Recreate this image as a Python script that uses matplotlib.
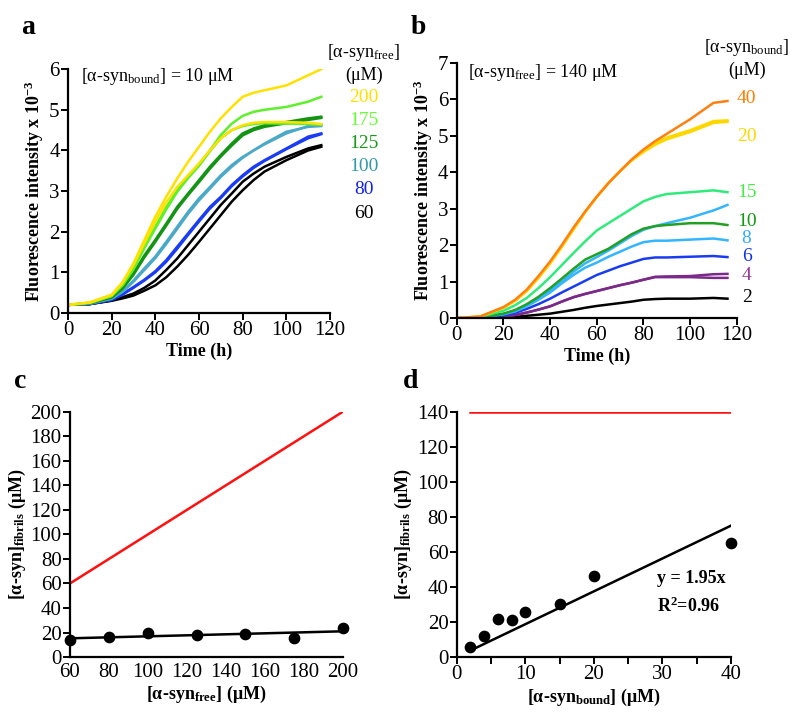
import matplotlib
matplotlib.use('Agg')
import matplotlib.pyplot as plt
import numpy as np

plt.rcParams['font.family'] = ['Liberation Serif', 'DejaVu Serif']
plt.rcParams['mathtext.fontset'] = 'custom'
plt.rcParams['mathtext.rm'] = 'Liberation Serif'
plt.rcParams['mathtext.bf'] = 'Liberation Serif:bold'
plt.rcParams['mathtext.it'] = 'Liberation Serif:italic'

# time points (h) at which the kinetic traces were read
time = [0, 10, 20, 25, 30, 35, 40, 45, 50, 55, 60, 65, 70, 75, 80, 85, 90, 100, 110, 116]

# ---- panel a: ThT kinetics, [bound] = 10 uM, varying [free] (x 10^3 a.u.)
a_free = ['200', '175', '125', '100', '80', '60']
a_colors = ['#FFE100', '#5EF02A', '#139413', '#4BA9C8', '#1A3CF5', '#000000']
a_label_colors = ['#FFE000', '#66FF33', '#1A9A1A', '#3399AA', '#1122EE', '#000000']
a_rep1 = [
    [0.2, 0.26, 0.45, 0.76, 1.22, 1.8, 2.37, 2.86, 3.31, 3.72, 4.09, 4.46, 4.79, 5.07, 5.32, 5.42, 5.48, 5.6, 5.85, 6.0],
    [0.2, 0.25, 0.42, 0.7, 1.12, 1.62, 2.12, 2.6, 3.02, 3.35, 3.65, 4.0, 4.38, 4.66, 4.85, 4.95, 5.0, 5.07, 5.2, 5.32],
    [0.2, 0.24, 0.39, 0.62, 0.98, 1.42, 1.8, 2.2, 2.61, 2.94, 3.27, 3.6, 3.89, 4.17, 4.42, 4.54, 4.62, 4.7, 4.79, 4.83],
    [0.2, 0.23, 0.36, 0.54, 0.8, 1.1, 1.39, 1.75, 2.12, 2.49, 2.82, 3.1, 3.39, 3.64, 3.84, 4.0, 4.17, 4.46, 4.58, 4.6],
    [0.2, 0.22, 0.33, 0.47, 0.64, 0.82, 1.03, 1.3, 1.63, 1.96, 2.29, 2.61, 2.86, 3.15, 3.39, 3.6, 3.76, 4.05, 4.34, 4.42],
    [0.2, 0.22, 0.31, 0.39, 0.48, 0.62, 0.8, 1.06, 1.34, 1.67, 2.0, 2.33, 2.66, 2.94, 3.23, 3.43, 3.6, 3.84, 4.05, 4.13],
]
a_rep2 = [
    [0.2, 0.26, 0.44, 0.74, 1.18, 1.72, 2.25, 2.72, 3.1, 3.39, 3.68, 4.0, 4.3, 4.5, 4.62, 4.68, 4.7, 4.7, 4.68, 4.65],
    [0.2, 0.25, 0.42, 0.68, 1.08, 1.6, 2.08, 2.55, 2.98, 3.32, 3.62, 3.98, 4.3, 4.5, 4.6, 4.65, 4.67, 4.66, 4.65, 4.63],
    [0.2, 0.24, 0.38, 0.6, 0.94, 1.37, 1.75, 2.15, 2.56, 2.9, 3.22, 3.55, 3.85, 4.12, 4.37, 4.5, 4.58, 4.67, 4.75, 4.8],
    [0.2, 0.23, 0.35, 0.52, 0.77, 1.06, 1.35, 1.7, 2.07, 2.44, 2.77, 3.06, 3.35, 3.6, 3.82, 4.0, 4.15, 4.42, 4.6, 4.63],
    [0.2, 0.22, 0.32, 0.45, 0.62, 0.8, 1.0, 1.26, 1.58, 1.92, 2.25, 2.57, 2.83, 3.12, 3.36, 3.57, 3.74, 4.03, 4.3, 4.4],
    [0.2, 0.22, 0.3, 0.36, 0.43, 0.55, 0.68, 0.88, 1.14, 1.43, 1.75, 2.08, 2.41, 2.74, 3.02, 3.27, 3.48, 3.76, 4.0, 4.09],
]

# ---- panel b: [free] = 140 uM, varying [bound]
b_bound = ['40', '20', '15', '10', '8', '6', '4', '2']
b_colors = ['#FF7F10', '#FFD700', '#30EB7C', '#22A022', '#33B5FF', '#1A3CF0', '#7B2A8A', '#000000']
b_label_colors = ['#FF7F00', '#FFD800', '#44EE44', '#119911', '#33AAFF', '#1133DD', '#993399', '#000000']
b_rep1 = [
    [0, 0.04, 0.3, 0.5, 0.78, 1.15, 1.55, 2.0, 2.48, 2.92, 3.33, 3.7, 4.03, 4.35, 4.62, 4.85, 5.05, 5.45, 5.9, 5.95],
    [0, 0.04, 0.28, 0.47, 0.74, 1.1, 1.5, 1.95, 2.43, 2.9, 3.32, 3.7, 4.03, 4.33, 4.58, 4.8, 4.95, 5.15, 5.4, 5.42],
    [0, 0.03, 0.2, 0.35, 0.55, 0.82, 1.12, 1.45, 1.78, 2.1, 2.4, 2.6, 2.8, 3.0, 3.2, 3.32, 3.4, 3.45, 3.5, 3.45],
    [0, 0.02, 0.12, 0.22, 0.38, 0.58, 0.82, 1.08, 1.35, 1.6, 1.75, 1.9, 2.1, 2.3, 2.45, 2.52, 2.55, 2.6, 2.6, 2.55],
    [0, 0.02, 0.1, 0.18, 0.32, 0.5, 0.7, 0.95, 1.18, 1.38, 1.52, 1.68, 1.82, 1.96, 2.08, 2.12, 2.12, 2.15, 2.18, 2.13],
    [0, 0.01, 0.07, 0.14, 0.25, 0.38, 0.53, 0.7, 0.86, 1.02, 1.18, 1.3, 1.42, 1.52, 1.62, 1.66, 1.66, 1.68, 1.7, 1.67],
    [0, 0.01, 0.04, 0.08, 0.15, 0.23, 0.32, 0.45, 0.57, 0.66, 0.74, 0.82, 0.9, 0.97, 1.05, 1.13, 1.14, 1.15, 1.2, 1.21],
    [0, 0.0, 0.01, 0.03, 0.06, 0.09, 0.12, 0.17, 0.22, 0.28, 0.33, 0.37, 0.41, 0.45, 0.5, 0.52, 0.53, 0.53, 0.55, 0.53],
]
b_rep2 = [
    None,
    [0, 0.04, 0.28, 0.47, 0.74, 1.1, 1.5, 1.95, 2.43, 2.9, 3.32, 3.7, 4.03, 4.32, 4.55, 4.75, 4.9, 5.1, 5.35, 5.38],
    None,
    None,
    [0, 0.02, 0.11, 0.2, 0.35, 0.53, 0.76, 1.0, 1.27, 1.5, 1.67, 1.85, 2.05, 2.25, 2.42, 2.52, 2.6, 2.75, 2.95, 3.1],
    None,
    [0, 0.01, 0.04, 0.08, 0.15, 0.23, 0.32, 0.45, 0.57, 0.66, 0.74, 0.82, 0.9, 0.97, 1.05, 1.12, 1.12, 1.12, 1.1, 1.1],
    None,
]

# ---- panel c
c_free = [60, 80, 100, 125, 150, 175, 200]
c_fibrils = [14, 16, 20, 18, 18.5, 15.5, 24]

# ---- panel d
d_bound = [2, 4, 6, 8, 10, 15, 20, 40]
d_fibrils = [5.5, 12, 21.5, 21, 25.5, 30, 46, 65]

fig = plt.figure(figsize=(8, 7.13), dpi=100)
ax_a = fig.add_axes([0.085, 0.561, 0.3275, 0.342])
ax_b = fig.add_axes([0.571, 0.554, 0.35, 0.358])
ax_c = fig.add_axes([0.0875, 0.0785, 0.341, 0.344])
ax_d = fig.add_axes([0.571, 0.0785, 0.3425, 0.344])

for ax in [ax_a, ax_b, ax_c, ax_d]:
    ax.spines['top'].set_visible(False)
    ax.spines['right'].set_visible(False)
    ax.spines['left'].set_linewidth(1.6)
    ax.spines['bottom'].set_linewidth(1.6)
    ax.tick_params(direction='out', length=5, width=1.4, labelsize=15, pad=1)

# a
for i in range(len(a_free) - 1, -1, -1):
    ax_a.plot(time, a_rep2[i], color=a_colors[i], lw=1.8)
    ax_a.plot(time, a_rep1[i], color=a_colors[i], lw=1.8)
ax_a.set_xlim(0, 120)
ax_a.set_ylim(0, 6)
ax_a.set_xticks(range(0, 121, 20))
ax_a.set_yticks(range(0, 7))
ax_a.set_xlabel('Time (h)', fontsize=13, fontweight='bold', labelpad=2)
ax_a.set_ylabel(r'Fluorescence intensity x 10$^{\mathbf{-3}}$', fontsize=13, fontweight='bold', labelpad=2)
ax_a.text(0.05, 0.97, r'[α-syn$_{\mathrm{bound}}$] = 10 μM', transform=ax_a.transAxes, fontsize=13, va='center')
ax_a.text(1.13, 1.07, r'[α-syn$_{\mathrm{free}}$]', transform=ax_a.transAxes, fontsize=13, ha='center', va='center')
ax_a.text(1.13, 0.975, '(μM)', transform=ax_a.transAxes, fontsize=13, ha='center', va='center')
for i, lab in enumerate(a_free):
    ax_a.text(1.13, 0.885 - i * 0.095, lab, transform=ax_a.transAxes, fontsize=14,
              ha='center', va='center', color=a_label_colors[i])

# b
for i in range(len(b_bound) - 1, -1, -1):
    if b_rep2[i] is not None:
        ax_b.plot(time, b_rep2[i], color=b_colors[i], lw=1.8)
    ax_b.plot(time, b_rep1[i], color=b_colors[i], lw=1.8)
ax_b.set_xlim(0, 120)
ax_b.set_ylim(0, 7)
ax_b.set_xticks(range(0, 121, 20))
ax_b.set_yticks(range(0, 8))
ax_b.set_xlabel('Time (h)', fontsize=13, fontweight='bold', labelpad=2)
ax_b.set_ylabel(r'Fluorescence intensity x 10$^{\mathbf{-3}}$', fontsize=13, fontweight='bold', labelpad=2)
ax_b.text(0.04, 0.96, r'[α-syn$_{\mathrm{free}}$] = 140 μM', transform=ax_b.transAxes, fontsize=13, va='center')
ax_b.text(1.035, 1.06, r'[α-syn$_{\mathrm{bound}}$]', transform=ax_b.transAxes, fontsize=13, ha='center', va='center')
ax_b.text(1.035, 0.97, '(μM)', transform=ax_b.transAxes, fontsize=13, ha='center', va='center')
b_label_y = [0.86, 0.71, 0.49, 0.38, 0.31, 0.24, 0.165, 0.08]
for i, lab in enumerate(b_bound):
    ax_b.text(1.035, b_label_y[i], lab, transform=ax_b.transAxes, fontsize=14,
              ha='center', va='center', color=b_label_colors[i])

# c
ax_c.plot([60, 200], [60, 200], color='#FF1010', lw=1.8)
fit_c = np.polyfit(c_free, c_fibrils, 1)
xx = np.array([60, 200])
ax_c.plot(xx, np.polyval(fit_c, xx), color='black', lw=1.8)
ax_c.scatter(c_free, c_fibrils, s=55, color='black', zorder=3, clip_on=False)
ax_c.set_xlim(60, 200)
ax_c.set_ylim(0, 200)
ax_c.set_xticks(range(60, 201, 20))
ax_c.set_yticks(range(0, 201, 20))
ax_c.tick_params(axis='x', length=0, pad=4)
ax_c.set_xlabel(r'[α-syn$_{\mathbf{free}}$] (μM)', fontsize=13, fontweight='bold', labelpad=2)
ax_c.set_ylabel(r'[α-syn]$_{\mathbf{fibrils}}$ (μM)', fontsize=13, fontweight='bold', labelpad=2)

# d
ax_d.plot([2, 40], [140, 140], color='#FF1010', lw=1.8)
xd = np.array(d_bound, dtype=float)
slope_d = np.sum(xd * np.array(d_fibrils)) / np.sum(xd * xd)
xx = np.array([2, 40])
ax_d.plot(xx, slope_d * xx, color='black', lw=1.8)
ax_d.scatter(d_bound, d_fibrils, s=55, color='black', zorder=3, clip_on=False)
ax_d.set_xlim(0, 40)
ax_d.set_ylim(0, 140)
ax_d.set_xticks(range(0, 41, 10))
ax_d.set_xticks(range(0, 41, 5), minor=True)
ax_d.tick_params(axis='x', which='minor', direction='out', length=5, width=1.4)
ax_d.set_yticks(range(0, 141, 20))
ax_d.set_xlabel(r'[α-syn$_{\mathbf{bound}}$] (μM)', fontsize=13, fontweight='bold', labelpad=2)
ax_d.set_ylabel(r'[α-syn]$_{\mathbf{fibrils}}$ (μM)', fontsize=13, fontweight='bold', labelpad=2)
ax_d.text(0.73, 0.3, 'y = 1.95x', transform=ax_d.transAxes, fontsize=13, fontweight='bold')
ax_d.text(0.73, 0.185, r'R$^{\mathbf{2}}$=0.96', transform=ax_d.transAxes, fontsize=13, fontweight='bold')

# panel letters
for x, y, s in [(0.027, 0.962, 'a'), (0.513, 0.962, 'b'), (0.017, 0.465, 'c'), (0.503, 0.465, 'd')]:
    fig.text(x, y, s, fontsize=20, fontweight='bold', va='center')

fig.savefig('out.png', dpi=100)
